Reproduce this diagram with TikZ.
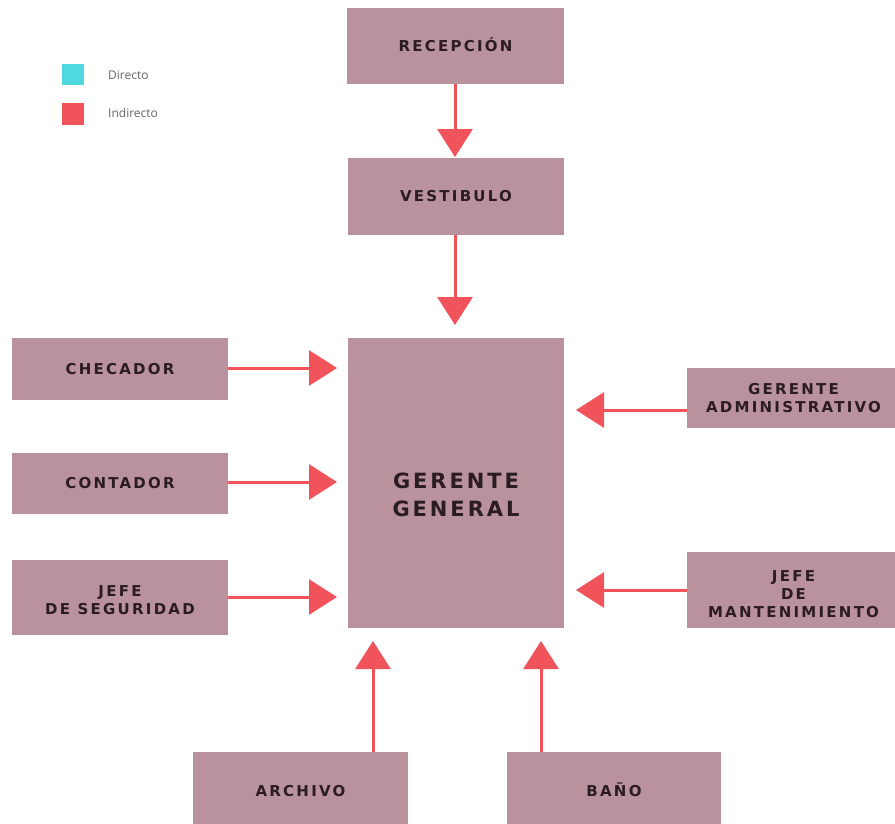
\documentclass[tikz,border=0pt]{standalone}
\usepackage{fontspec}
\usetikzlibrary{arrows.meta}
\newfontfamily\boxfont[LetterSpace=15]{DejaVu Sans Bold}
\newfontfamily\bigfont[LetterSpace=14]{DejaVu Sans Bold}
\newfontfamily\legfont{Open Sans}
\definecolor{boxc}{HTML}{B9929D}
\definecolor{arrc}{HTML}{F0545A}
\definecolor{cyanc}{HTML}{4FD8E0}
\definecolor{txtc}{HTML}{2B1B22}
\definecolor{legtxt}{HTML}{666666}
\tikzset{
  box/.style={rectangle, fill=boxc, inner sep=0pt, align=center, text=txtc,
    font=\boxfont\fontsize{15}{18}\selectfont},
  oneline/.style={text height=10.9pt, text depth=0pt},
  boxlbl/.style={align=center, text=txtc, inner sep=0pt, font=\boxfont\fontsize{15}{18}\selectfont},
  arr/.style={draw=arrc, line width=3pt, -{Triangle[width=35pt,length=28pt]}},
  leg/.style={anchor=west, text=legtxt, font=\legfont\fontsize{12}{14}\selectfont, inner sep=0pt}
}
\begin{document}
\begin{tikzpicture}[x=1pt,y=-1pt]
\useasboundingbox (0,0) rectangle (895,823);
\clip (0,0) rectangle (895,823);
\fill[white] (0,0) rectangle (895,823);
% legend
\fill[cyanc] (62,64) rectangle (84,85);
\fill[arrc] (62,103) rectangle (84,125);
\node[leg] (ldir) at (108,75) {Directo};
\node[leg] (lind) at (108,113) {Indirecto};
% boxes
\node[box, oneline, minimum width=217pt, minimum height=76pt] (recep) at (455.5,46) {RECEPCIÓN};
\node[box, oneline, minimum width=216pt, minimum height=77pt] (vest) at (456,196.5) {VESTIBULO};
\node[box, minimum width=216pt, minimum height=290pt,
  label={[boxlbl, name=ggtext, font=\bigfont\fontsize{21}{28}\selectfont, yshift=-12pt]center:GERENTE\\GENERAL}] (gg) at (456,483) {};
\node[box, oneline, minimum width=216pt, minimum height=62pt] (checador) at (120,369) {CHECADOR};
\node[box, oneline, minimum width=216pt, minimum height=61pt] (contador) at (120,483.5) {CONTADOR};
\node[box, minimum width=216pt, minimum height=75pt,
  label={[boxlbl, name=jstext, yshift=-3pt]center:JEFE\\DE SEGURIDAD}] (jefeseg) at (120,597.5) {};
\node[box, minimum width=213pt, minimum height=60pt] (geradm) at (793.5,398) {GERENTE\\ADMINISTRATIVO};
\node[box, minimum width=213pt, minimum height=76pt,
  label={[boxlbl, name=jmtext, yshift=-4pt]center:JEFE\\DE\\MANTENIMIENTO}] (jefmant) at (793.5,590) {};
\node[box, oneline, minimum width=215pt, minimum height=78pt] (archivo) at (300.5,791) {ARCHIVO};
\node[box, oneline, minimum width=214pt, minimum height=78pt] (bano) at (614,791) {BAÑO};
% arrow tips
\coordinate (t1) at (455,157);
\coordinate (t2) at (455,325);
\coordinate (tl1) at (337,368);
\coordinate (tl2) at (337,482);
\coordinate (tl3) at (337,597);
\coordinate (tr1) at (576,410);
\coordinate (tr2) at (576,590);
\coordinate (tb1) at (373,641);
\coordinate (tb2) at (541,641);
% arrows
\draw[arr] (recep.south -| t1) -- (t1);
\draw[arr] (vest.south -| t2) -- (t2);
\draw[arr] (checador.east |- tl1) -- (tl1);
\draw[arr] (contador.east |- tl2) -- (tl2);
\draw[arr] (jefeseg.east |- tl3) -- (tl3);
\draw[arr] (geradm.west |- tr1) -- (tr1);
\draw[arr] (jefmant.west |- tr2) -- (tr2);
\draw[arr] (archivo.north -| tb1) -- (tb1);
\draw[arr] (bano.north -| tb2) -- (tb2);
\end{tikzpicture}
\end{document}
